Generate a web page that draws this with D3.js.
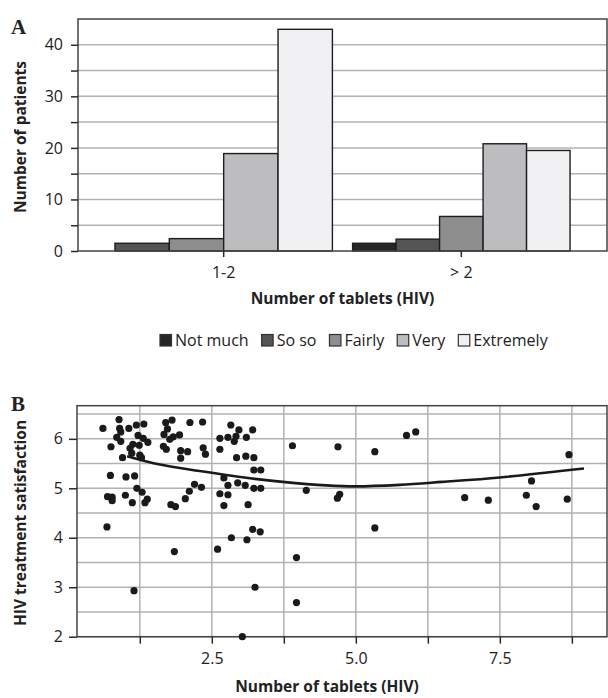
<!DOCTYPE html>
<html lang="en">
<head>
<meta charset="UTF-8">
<title>Tablets and satisfaction</title>
<style>
  body { margin: 0; background: #fff; }
  svg text { font-family: "Open Sans", "Noto Sans", sans-serif; fill: #222; }
  .panel { font-family: "Liberation Serif", "DejaVu Serif", serif !important; font-weight: bold; }
  .title { font-weight: bold; }
</style>
</head>
<body>
<script src="https://cdn.jsdelivr.net/npm/d3@7"></script>
<script>
// panel A: patients per tablet group and satisfaction level
var groups = ["1-2", "> 2"];
var levels = ["Not much", "So so", "Fairly", "Very", "Extremely"];
var levelColors = ["#262626", "#555555", "#8e8e8e", "#bdbdbf", "#f1f1f3"];
var countsLow = [null, 1.5, 2.4, 18.9, 43.0];
var countsHigh = [1.5, 2.3, 6.7, 20.8, 19.5];
var yTicksA = [0, 5, 10, 15, 20, 25, 30, 35, 40];

// panel B: tablets vs. satisfaction
var tablets = [0.61, 0.89, 0.90, 0.92, 1.06, 1.19, 1.32, 0.85, 0.92, 0.75,
  1.22, 1.31, 1.39, 1.13, 1.24, 1.08, 1.11, 0.95, 1.25, 1.28,
  0.74, 1.01, 1.16, 1.20, 1.29, 0.69, 0.77, 0.77, 1.00, 1.12,
  1.34, 1.38, 0.68, 1.15, 1.70, 1.81, 1.73, 1.67, 1.83, 1.94,
  1.77, 1.66, 1.71, 1.96, 2.08, 1.96, 2.12, 2.34, 2.35, 2.39,
  2.20, 2.32, 2.11, 2.04, 1.79, 1.87, 1.85, 2.83, 2.97, 3.21,
  2.64, 2.78, 2.92, 2.89, 3.10, 2.64, 2.93, 3.09, 3.23, 3.23,
  3.35, 2.71, 2.78, 2.95, 3.08, 3.23, 3.35, 2.64, 2.78, 2.71,
  3.13, 3.21, 3.34, 2.84, 3.11, 2.60, 3.25, 3.03, 3.90, 4.14,
  3.97, 3.97, 4.69, 4.72, 4.68, 5.33, 5.33, 5.88, 6.04, 6.89,
  7.30, 7.96, 8.05, 8.13, 8.67, 8.70];
var satisfaction = [6.21, 6.39, 6.21, 6.14, 6.21, 6.28, 6.30, 6.03, 5.95, 5.84,
  6.07, 6.01, 5.93, 5.89, 5.87, 5.81, 5.71, 5.62, 5.67, 5.62,
  5.26, 5.23, 5.25, 5.00, 4.92, 4.83, 4.82, 4.75, 4.86, 4.71,
  4.71, 4.78, 4.22, 2.93, 6.33, 6.38, 6.20, 6.09, 6.04, 6.08,
  5.99, 5.85, 5.79, 5.76, 5.74, 5.61, 6.33, 6.34, 5.82, 5.69,
  5.08, 5.02, 4.94, 4.79, 4.67, 4.63, 3.72, 6.28, 6.18, 6.18,
  6.01, 6.03, 6.05, 5.95, 6.03, 5.79, 5.62, 5.65, 5.62, 5.37,
  5.37, 5.21, 5.06, 5.11, 5.06, 5.00, 5.00, 4.89, 4.87, 4.65,
  4.67, 4.17, 4.12, 4.00, 3.96, 3.77, 3.00, 2.00, 5.86, 4.96,
  3.60, 2.69, 5.84, 4.88, 4.80, 5.74, 4.20, 6.07, 6.14, 4.81,
  4.76, 4.86, 5.15, 4.63, 4.78, 5.68];
var fitX = [1.03, 1.6, 2.29, 3.25, 3.73, 4.49, 5.0, 5.76, 6.5, 7.5, 8.96];
var fitY = [5.65, 5.48, 5.35, 5.19, 5.13, 5.06, 5.04, 5.07, 5.13, 5.22, 5.40];
var xTicksB = [1.25, 2.5, 3.75, 5, 6.25, 7.5, 8.75];
var yTicksB = [2, 2.5, 3, 3.5, 4, 4.5, 5, 5.5, 6, 6.5];

var svg = d3.select("body").append("svg").attr("width", 608).attr("height", 698);
var grid = "#b2b2b2", ink = "#2b2b2b";
var fs = 16, fsTitle = 15.5;

// ---------- A ----------
var a = {l: 78, r: 607, t: 19, b: 251};
var xA = d3.scaleBand().domain(groups).range([a.l, a.r]).paddingInner(0).paddingOuter(0.113);
var yA = d3.scaleLinear().domain([0, 45]).range([a.b, a.t]);

svg.append("g").selectAll("line").data(yTicksA.slice(1)).join("line")
    .attr("x1", a.l).attr("x2", a.r)
    .attr("y1", function(d) { return yA(d); }).attr("y2", function(d) { return yA(d); })
    .attr("stroke", grid).attr("stroke-width", 1.5);

var series = [countsLow, countsHigh];
groups.forEach(function(g, gi) {
    var rows = levels.map(function(l, li) { return {level: l, i: li, v: series[gi][li]}; })
        .filter(function(d) { return d.v != null; });
    var w = xA.bandwidth() * 0.915, c = xA(g) + xA.bandwidth() / 2;
    var sub = d3.scaleBand().domain(rows.map(function(d) { return d.level; })).range([c - w / 2, c + w / 2]);
    svg.append("g").selectAll("rect").data(rows).join("rect")
        .attr("x", function(d) { return sub(d.level); })
        .attr("width", sub.bandwidth())
        .attr("y", function(d) { return yA(d.v); })
        .attr("height", function(d) { return yA(0) - yA(d.v); })
        .attr("fill", function(d) { return levelColors[d.i]; })
        .attr("stroke", "#1e1e1e").attr("stroke-width", 1.4);
});

svg.append("rect").attr("x", a.l).attr("y", a.t).attr("width", a.r - a.l).attr("height", a.b - a.t)
    .attr("fill", "none").attr("stroke", "#444").attr("stroke-width", 1.5);

var axA = svg.append("g").attr("transform", "translate(" + a.l + ",0)")
    .call(d3.axisLeft(yA).tickValues(yTicksA).tickSize(7).tickPadding(8)
        .tickFormat(function(d) { return d % 10 === 0 ? d : ""; }));
var axAx = svg.append("g").attr("transform", "translate(0," + a.b + ")")
    .call(d3.axisBottom(xA).tickSize(6).tickPadding(10));

svg.append("text").attr("class", "title").attr("font-size", fsTitle)
    .attr("text-anchor", "middle").attr("x", (a.l + a.r) / 2).attr("y", 304)
    .text("Number of tablets (HIV)");
svg.append("text").attr("class", "title").attr("font-size", fsTitle)
    .attr("text-anchor", "middle").attr("transform", "translate(26," + 137 + ") rotate(-90)")
    .text("Number of patients");
svg.append("text").attr("class", "panel").attr("font-size", 21).attr("x", 11).attr("y", 34).text("A");

// legend
var lx = 160;
var leg = svg.append("g");
levels.forEach(function(l, i) {
    leg.append("rect").attr("x", lx).attr("y", 334.5).attr("width", 11.5).attr("height", 11.5)
        .attr("fill", levelColors[i]).attr("stroke", "#333").attr("stroke-width", 1.2);
    var t = leg.append("text").attr("x", lx + 15).attr("y", 345.5).attr("font-size", fs).text(l);
    lx += 15 + t.node().getComputedTextLength() + 13;
});

// ---------- B ----------
var b = {l: 77, r: 607, t: 405.7, b: 636.7};
var xB = d3.scaleLinear().domain([0.16, 9.36]).range([b.l, b.r]);
var yB = d3.scaleLinear().domain([2, 6.67]).range([b.b, b.t]);

svg.append("g").selectAll("line").data(yTicksB).join("line")
    .attr("x1", b.l).attr("x2", b.r)
    .attr("y1", function(d) { return yB(d); }).attr("y2", function(d) { return yB(d); })
    .attr("stroke", grid).attr("stroke-width", 1.5);
svg.append("g").selectAll("line").data(xTicksB).join("line")
    .attr("y1", b.t).attr("y2", b.b)
    .attr("x1", function(d) { return xB(d); }).attr("x2", function(d) { return xB(d); })
    .attr("stroke", grid).attr("stroke-width", 1.5);

svg.append("rect").attr("x", b.l).attr("y", b.t).attr("width", b.r - b.l).attr("height", b.b - b.t)
    .attr("fill", "none").attr("stroke", "#444").attr("stroke-width", 1.5);

svg.append("g").selectAll("circle").data(tablets).join("circle")
    .attr("cx", function(d) { return xB(d); })
    .attr("cy", function(d, i) { return yB(satisfaction[i]); })
    .attr("r", 3.6).attr("fill", "#1a1a1a");

svg.append("path").datum(fitX)
    .attr("d", d3.line().curve(d3.curveCatmullRom)
        .x(function(d) { return xB(d); })
        .y(function(d, i) { return yB(fitY[i]); }))
    .attr("fill", "none").attr("stroke", "#1a1a1a").attr("stroke-width", 2.6);

var axB = svg.append("g").attr("transform", "translate(" + b.l + ",0)")
    .call(d3.axisLeft(yB).tickValues([2, 3, 4, 5, 6]).tickSize(8).tickPadding(6).tickFormat(d3.format("d")));
var axBx = svg.append("g").attr("transform", "translate(0," + b.b + ")")
    .call(d3.axisBottom(xB).tickValues(xTicksB).tickSize(7).tickPadding(9)
        .tickFormat(function(d) { return d % 2.5 === 0 ? d3.format(".1f")(d) : ""; }));

svg.append("text").attr("class", "title").attr("font-size", fsTitle)
    .attr("text-anchor", "middle").attr("x", 327).attr("y", 692)
    .text("Number of tablets (HIV)");
svg.append("text").attr("class", "title").attr("font-size", fsTitle)
    .attr("text-anchor", "middle").attr("transform", "translate(26," + 523 + ") rotate(-90)")
    .text("HIV treatment satisfaction");
svg.append("text").attr("class", "panel").attr("font-size", 21).attr("x", 11).attr("y", 411).text("B");

[axA, axAx, axB, axBx].forEach(function(g) {
    g.select(".domain").remove();
    g.selectAll(".tick line").attr("stroke", ink).attr("stroke-width", 1.5);
    g.selectAll(".tick text").attr("font-size", fs).attr("fill", "#222")
        .style("font-family", "'Open Sans', 'Noto Sans', sans-serif");
});
</script>
</body>
</html>
